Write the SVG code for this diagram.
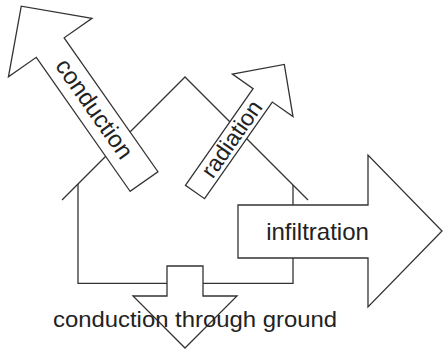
<svg xmlns="http://www.w3.org/2000/svg" width="443" height="350" viewBox="0 0 443 350">
<style>
.ln{fill:none;stroke:#333;stroke-width:1.3;stroke-linejoin:miter}
.ar{fill:#fff;stroke:#333;stroke-width:1.3;stroke-linejoin:miter}
.tx{font-family:"Liberation Sans",Arial,sans-serif;fill:#222}
</style>
<rect width="443" height="350" fill="#fff"/>
<g id="house">
<polyline class="ln" points="62,200 185,77 308,200"/>
<polyline class="ln" points="78,184 78,283.3 293,283.3 293,185"/>
</g>
<g id="arrow-conduction">
<polygon class="ar" transform="translate(144,181.5) rotate(-125)" points="0,-17 163.5,-17 163.5,-51 214,0 163.5,51 163.5,17 0,17"/>
<text class="tx" transform="translate(93.5,109.4) rotate(55)" text-anchor="middle" y="7" font-size="24">conduction</text>
</g>
<g id="arrow-radiation">
<polygon class="ar" transform="translate(195,192) rotate(-55)" points="0,-11.7 118,-11.7 118,-37 155.7,0 118,37 118,11.7 0,11.7"/>
<text class="tx" transform="translate(232.3,139.3) rotate(-55)" text-anchor="middle" y="7" font-size="23">radiation</text>
</g>
<g id="arrow-infiltration">
<polygon class="ar" points="238,205 368,205 368,155 442,231 368,307 368,258 238,258"/>
<text class="tx" x="317.5" y="240" text-anchor="middle" font-size="24">infiltration</text>
</g>
<g id="arrow-ground">
<polygon class="ar" points="167,266 203,266 203,296 237,296 185,348 133,296 167,296"/>
<text class="tx" x="53" y="327" font-size="22" textLength="284" lengthAdjust="spacingAndGlyphs">conduction through ground</text>
</g>
</svg>
